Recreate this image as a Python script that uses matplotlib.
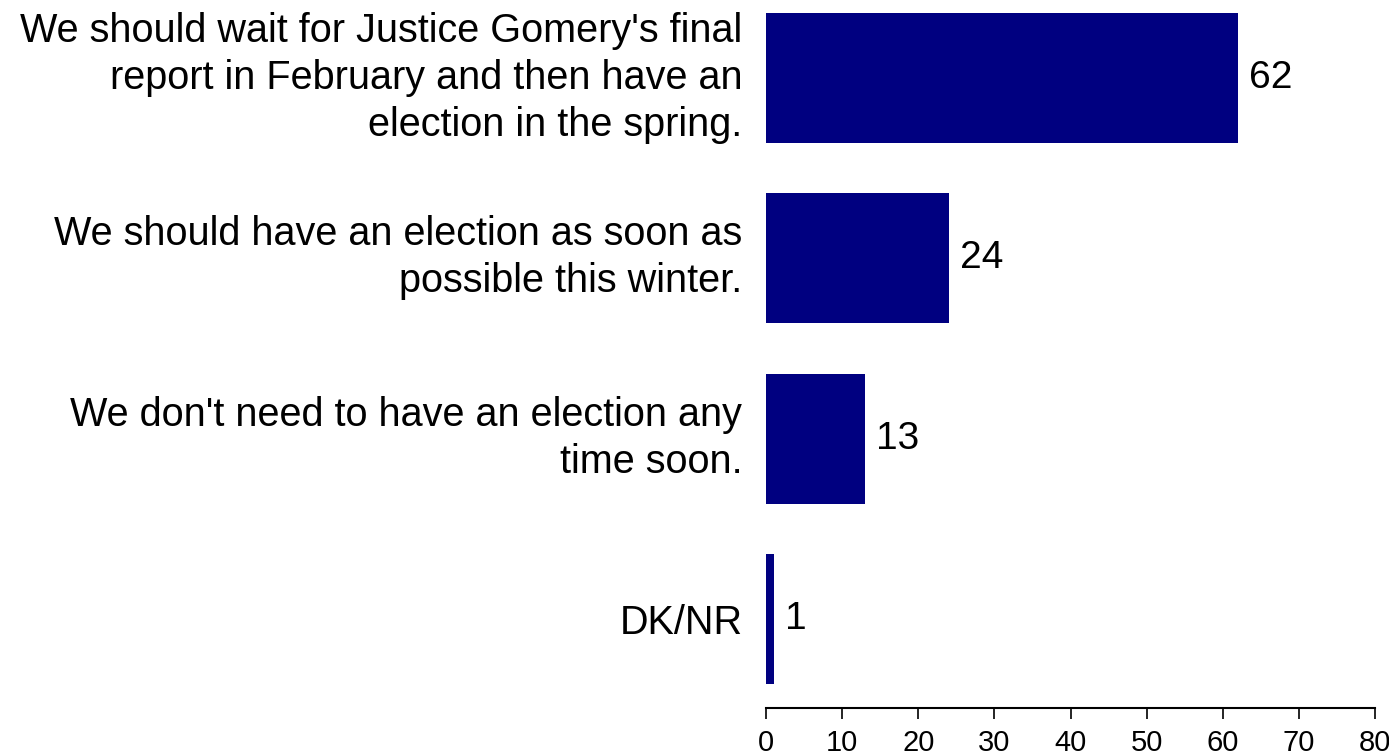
import matplotlib
matplotlib.use("Agg")
from matplotlib import pyplot as plt
from matplotlib.transforms import ScaledTranslation

categories = [
    "We should wait for Justice Gomery's final\nreport in February and then have an\nelection in the spring.",
    "We should have an election as soon as\npossible this winter.",
    "We don't need to have an election any\ntime soon.",
    "DK/NR",
]
values = [62, 24, 13, 1]
xticks = [0, 10, 20, 30, 40, 50, 60, 70, 80]

plt.rcParams['font.family'] = ['Liberation Sans', 'DejaVu Sans']

fig = plt.figure(figsize=(13.89, 7.56), dpi=100)
ax = fig.add_axes([766 / 1389, 48 / 756, (1375 - 766) / 1389, 708 / 756])

pos = list(range(len(values)))
ax.barh(pos, values, height=0.72, color='#000080')

for p, v in zip(pos, values):
    ax.text(v + 1.5, p, str(v), va='center', ha='left', fontsize=28)

ax.set_xlim(0, 80)
ax.set_ylim(3.494, -0.433)
ax.set_xticks(xticks)
ax.set_xticklabels([str(t) for t in xticks], fontsize=21)
ax.set_yticks(pos)
ax.set_yticklabels(categories, fontsize=28.5, linespacing=1.3)
ax.tick_params(axis='y', length=0, pad=17)
ax.tick_params(axis='x', length=8, width=1.2, pad=7)

# multi-line labels sit a little higher than the bar centre in the original
for lab in ax.get_yticklabels():
    if '\n' in lab.get_text():
        lab.set_transform(lab.get_transform() + ScaledTranslation(0, 9 / 100, fig.dpi_scale_trans))

for s in ['top', 'right', 'left']:
    ax.spines[s].set_visible(False)
ax.spines['bottom'].set_linewidth(1.5)

fig.savefig('out.png', dpi=100)
